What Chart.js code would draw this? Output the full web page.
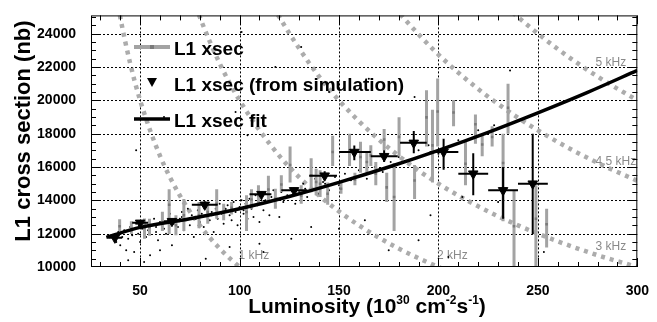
<!DOCTYPE html>
<html>
<head>
<meta charset="utf-8">
<script src="https://cdn.jsdelivr.net/npm/chart.js@4.4.0/dist/chart.umd.min.js"></script>
<style>
  html, body { margin: 0; padding: 0; background: #fff; }
</style>
</head>
<body>
<canvas id="myChart" width="657" height="322"></canvas>
<script>
const xTickVals = [50, 100, 150, 200, 250, 300];
const yTickVals = [10000, 12000, 14000, 16000, 18000, 20000, 22000, 24000];

// L1 xsec (grey points with vertical errors)
const xsecL  = [39.7, 45.6, 52.2, 54.7, 61.2, 64.6, 68, 72, 79.6, 84, 88.5, 92, 96, 103.5, 106, 109.5, 114.5, 118, 121, 125.4, 131, 136, 138.5, 140.5, 144.3, 146.8, 151, 155.3, 158, 160.8, 164, 166, 168.5, 172.7, 174, 177.7, 180.2, 188, 194, 197, 199.6, 207.6, 213.6, 218.6, 222, 227, 232.5, 235, 238, 249, 254.4];
const xsecS  = [12450, 12300, 12350, 12400, 12700, 13730, 12500, 13100, 13100, 13300, 13800, 13300, 13550, 13300, 14050, 14300, 14650, 14100, 14950, 16120, 14300, 15500, 15100, 15000, 14400, 16900, 14700, 17000, 15250, 16600, 16300, 16700, 15600, 17650, 14780, 14200, 17810, 15190, 18980, 17300, 19330, 19270, 16200, 18570, 17350, 17800, 16240, 19560, 12450, 12900, 12560];
const xsecLo = [12160, 11980, 11690, 11870, 12160, 11980, 11900, 12160, 12330, 12600, 12900, 12800, 13150, 12160, 13500, 13750, 13900, 13500, 14500, 15070, 13800, 14490, 14300, 14200, 13730, 16060, 14400, 16060, 14900, 15650, 15650, 16060, 14900, 17000, 13900, 12160, 16650, 14080, 17230, 15070, 17230, 18450, 14900, 17400, 16650, 17230, 12740, 17990, 9500, 9500, 11170];
const xsecHi = [12860, 12740, 12915, 12900, 13320, 14660, 13100, 14080, 13900, 13900, 14660, 13800, 13900, 14300, 14660, 14900, 15480, 14700, 15500, 17230, 14900, 16530, 15900, 15800, 15070, 17870, 15100, 17990, 15650, 17520, 16900, 17300, 16300, 18280, 15650, 16240, 18980, 16120, 20610, 19440, 21310, 20030, 17520, 19150, 18000, 18450, 17990, 21000, 14600, 14900, 13500];

// L1 xsec (from simulation)
const simL   = [37.3, 50, 66, 82.5, 111, 127.4, 142.8, 157.7, 172.7, 187.6, 202.6, 217.5, 232.5, 247.4];
const simS   = [11750, 12650, 12750, 13730, 14370, 14600, 15480, 16900, 16650, 17450, 16900, 15600, 14600, 15000];
const simLo  = [11600, 12500, 12600, 13500, 14200, 14450, 15200, 16400, 16300, 16820, 15830, 14310, 12900, 11980];
const simHi  = [11900, 12800, 12900, 13950, 14550, 14750, 15750, 17290, 17000, 18160, 17700, 16820, 16000, 17990];
const simLlo = [34, 46, 62, 76, 105, 121, 135, 150, 166, 180.7, 195.6, 210, 225, 240];
const simLhi = [41, 54, 70, 89, 116, 134, 149, 166, 179.5, 194.1, 210, 225, 240, 255];

// L1 xsec fit
const fitL = [33, 50, 75, 100, 125, 150, 175, 200, 225, 250, 275, 300];
const fitS = [11780, 12380, 12900, 13500, 14230, 15080, 16000, 17000, 18080, 19250, 20480, 21800];

// individual measurements (small dots)
const dotL = [36, 38, 39, 40, 41, 42, 43, 44, 45, 46, 47, 48, 49, 50, 51, 52, 53, 54, 55, 56, 57, 58, 59, 60, 61, 62, 63, 64, 65, 66, 67, 68, 69, 70, 71, 72, 73, 74, 75, 76, 77, 78, 79, 80, 81, 82, 83, 84, 85, 86, 87, 88, 89, 90, 91, 92, 93, 94, 95, 96, 97, 98, 99, 100, 101, 102, 103, 104, 105, 106, 107, 108, 109, 110, 111, 112, 113, 114, 115, 116, 117, 118, 119, 120, 121, 122, 124, 126, 128, 130, 132, 134, 136, 138, 140, 142, 145, 148, 150, 153, 156, 160, 164, 168, 172, 176, 180, 185, 190, 195, 200, 210, 220, 228, 44, 52, 60, 75, 83, 95, 98, 110, 118, 126, 131, 136, 145, 150, 163, 165, 175, 188, 190, 196, 205, 212, 230, 236, 241, 253, 48, 62, 104, 112, 101, 58, 71, 86, 93, 102, 113, 123, 133, 143];
const dotS = [11900, 11500, 12100, 11300, 11800, 12200, 11000, 11700, 12400, 11900, 10900, 12600, 12000, 11500, 12300, 12700, 11800, 12200, 10700, 12500, 12900, 12100, 11600, 12700, 13100, 12300, 12000, 12800, 13200, 11300, 12600, 13000, 12400, 12900, 13300, 12200, 12800, 13500, 12500, 13100, 11800, 12900, 13400, 12700, 13200, 12400, 13600, 13000, 12800, 13300, 12100, 13500, 12900, 13800, 13200, 12600, 13400, 13700, 13100, 12800, 13900, 13300, 12500, 13600, 14000, 13200, 13800, 12900, 14100, 13500, 13000, 14300, 13700, 12700, 14000, 13400, 14400, 13900, 13100, 14200, 14600, 13600, 14100, 13000, 14500, 13900, 14300, 14700, 13800, 14500, 15000, 14200, 14800, 15300, 14400, 15100, 14600, 15400, 14900, 15600, 15200, 15800, 15300, 16000, 15700, 16300, 16600, 16400, 17000, 17300, 16800, 17600, 18200, 18500, 10400, 10300, 11000, 20600, 10500, 11200, 19300, 11400, 22000, 11700, 23200, 12400, 20500, 12300, 12800, 21300, 11000, 20200, 11600, 13100, 10600, 14200, 13900, 21800, 15900, 10900, 17000, 19000, 17900, 10900, 24100, 12400, 13000, 13100, 13500, 13400, 14000, 14200, 14700, 15000];

// constant-rate curves
const rateCurveL = [
  [36, 40, 45, 50, 60, 70, 80, 90, 100, 104],
  [75, 80, 90, 100, 120, 140, 160, 180, 200, 205],
  [115, 120, 140, 160, 180, 200, 220, 240, 260, 280, 300],
  [175, 180, 200, 220, 240, 260, 280, 300],
  [234, 240, 260, 280, 300]
];
const rateCurveS = [
  [27780, 25000, 22220, 20000, 16670, 14290, 12500, 11110, 10000, 9620],
  [26670, 25000, 22220, 20000, 16670, 14290, 12500, 11110, 10000, 9760],
  [26090, 25000, 21430, 18750, 16670, 15000, 13640, 12500, 11540, 10710, 10000],
  [26000, 25280, 22750, 20680, 18960, 17500, 16250, 15170],
  [25640, 25000, 23080, 21430, 20000]
];
const rateNames  = ["1 kHz", "2 kHz", "3 kHz", "4.5 kHz", "5 kHz"];
const rateLabelL = [99.5, 199.3, 279, 279, 279];
const rateLabelS = [10700, 10700, 11220, 16300, 22240];

const pts = (xs, ys) => xs.map((v, i) => ({ x: v, y: ys[i] }));

const GREY_BAR = "#a3a3a3";
const CURVE = "#acacac";

const datasets = [
  {
    label: "L1 xsec (from simulation)",
    data: pts(simL, simS),
    pointStyle: "triangle",
    rotation: 180,
    pointRadius: 5.5,
    backgroundColor: "#000",
    borderColor: "#000",
    borderWidth: 1,
  },
  {
    label: "L1 xsec fit",
    data: pts(fitL, fitS),
    showLine: true,
    cubicInterpolationMode: "monotone",
    borderColor: "#000",
    borderWidth: 3.5,
    pointRadius: 0,
  },
  {
    label: "L1 xsec",
    data: pts(xsecL, xsecS),
    pointStyle: "rect",
    pointRadius: 1.8,
    backgroundColor: "#7a7a7a",
    borderWidth: 0,
  },
  {
    label: "measurements",
    data: pts(dotL, dotS),
    pointRadius: 1,
    backgroundColor: "#000",
    borderWidth: 0,
  },
];
rateCurveL.forEach((ls, i) => {
  datasets.push({
    label: rateNames[i],
    data: pts(ls, rateCurveS[i]),
    showLine: true,
    cubicInterpolationMode: "monotone",
    borderColor: CURVE,
    borderWidth: 4.5,
    borderDash: [4, 5],
    pointRadius: 0,
  });
});

function seg(ctx, x1, y1, x2, y2) {
  ctx.beginPath();
  ctx.moveTo(x1, y1);
  ctx.lineTo(x2, y2);
  ctx.stroke();
}

const rootStyle = {
  id: "rootStyle",
  beforeDatasetsDraw(chart) {
    const { ctx, chartArea: a, scales: { x, y } } = chart;
    ctx.save();
    ctx.strokeStyle = "#000";
    ctx.lineWidth = 1;
    ctx.setLineDash([2, 2]);
    xTickVals.forEach(v => {
      const px = Math.round(x.getPixelForValue(v)) + 0.5;
      if (px > a.left + 2 && px < a.right - 2) seg(ctx, px, a.top, px, a.bottom);
    });
    yTickVals.forEach(v => {
      const py = Math.round(y.getPixelForValue(v)) + 0.5;
      if (py > a.top + 2 && py < a.bottom - 2) seg(ctx, a.left, py, a.right, py);
    });
    ctx.setLineDash([]);
    ctx.fillStyle = "#8a8a8a";
    ctx.font = "12px 'Liberation Sans', Arial, sans-serif";
    ctx.textBaseline = "middle";
    ctx.textAlign = "left";
    rateNames.forEach((t, i) => {
      ctx.fillText(t, x.getPixelForValue(rateLabelL[i]), y.getPixelForValue(rateLabelS[i]));
    });
    ctx.restore();
  },
  beforeDatasetDraw(chart, args) {
    const { ctx, chartArea: a, scales: { x, y } } = chart;
    if (args.index !== 0 && args.index !== 2) return;
    ctx.save();
    ctx.beginPath();
    ctx.rect(a.left, a.top, a.right - a.left, a.bottom - a.top);
    ctx.clip();
    if (args.index === 2) {
      ctx.strokeStyle = GREY_BAR;
      ctx.lineWidth = 3;
      xsecL.forEach((l, i) => {
        const px = x.getPixelForValue(l);
        seg(ctx, px, y.getPixelForValue(xsecLo[i]), px, y.getPixelForValue(xsecHi[i]));
      });
    } else {
      ctx.strokeStyle = "#000";
      ctx.lineWidth = 2;
      simL.forEach((l, i) => {
        const px = x.getPixelForValue(l);
        const py = y.getPixelForValue(simS[i]);
        seg(ctx, px, y.getPixelForValue(simLo[i]), px, y.getPixelForValue(simHi[i]));
        seg(ctx, x.getPixelForValue(simLlo[i]), py, x.getPixelForValue(simLhi[i]), py);
      });
    }
    ctx.restore();
  },
  afterDatasetsDraw(chart) {
    const { ctx, chartArea: a, scales: { x, y } } = chart;
    ctx.save();
    ctx.strokeStyle = "#000";
    ctx.lineWidth = 1;
    ctx.strokeRect(a.left + 0.5, a.top + 0.5, a.right - a.left - 1, a.bottom - a.top - 1);

    // inward ticks on all four sides
    for (let v = 30; v <= 300; v += 10) {
      const px = Math.round(x.getPixelForValue(v)) + 0.5;
      const len = v % 50 === 0 ? 9 : 5;
      seg(ctx, px, a.bottom, px, a.bottom - len);
      seg(ctx, px, a.top, px, a.top + len);
    }
    for (let v = 10500; v <= 25000; v += 500) {
      const py = Math.round(y.getPixelForValue(v)) + 0.5;
      const len = v % 2000 === 0 ? 10 : 5;
      seg(ctx, a.left, py, a.left + len, py);
      seg(ctx, a.right, py, a.right - len, py);
    }

    // legend
    ctx.font = "bold 19px 'Liberation Sans', Arial, sans-serif";
    ctx.fillStyle = "#000";
    ctx.textAlign = "left";
    ctx.textBaseline = "alphabetic";
    ctx.strokeStyle = GREY_BAR;
    ctx.lineWidth = 4;
    seg(ctx, 134, 47, 170, 47);
    ctx.fillStyle = "#7a7a7a";
    ctx.fillRect(150, 45, 4, 4);
    ctx.fillStyle = "#000";
    ctx.fillText("L1 xsec", 174, 55);
    ctx.beginPath();
    ctx.moveTo(147, 78);
    ctx.lineTo(157, 78);
    ctx.lineTo(152, 87);
    ctx.closePath();
    ctx.fill();
    ctx.fillText("L1 xsec (from simulation)", 174, 91);
    ctx.strokeStyle = "#000";
    ctx.lineWidth = 3.5;
    seg(ctx, 134, 119, 170, 119);
    ctx.fillText("L1 xsec fit", 174, 127);

    // y title
    ctx.save();
    ctx.translate(30, 131);
    ctx.rotate(-Math.PI / 2);
    ctx.textAlign = "center";
    ctx.font = "bold 22px 'Liberation Sans', Arial, sans-serif";
    ctx.fillText("L1 cross section (nb)", 0, 0);
    ctx.restore();

    // x title with superscripts
    const big = "bold 21px 'Liberation Sans', Arial, sans-serif";
    const sup = "bold 12px 'Liberation Sans', Arial, sans-serif";
    const parts = [
      ["Luminosity (10", big, 0], ["30", sup, -9], [" cm", big, 0],
      ["-2", sup, -9], ["s", big, 0], ["-1", sup, -9], [")", big, 0]
    ];
    let total = 0;
    parts.forEach(p => { ctx.font = p[1]; total += ctx.measureText(p[0]).width; });
    let cx = 367 - total / 2;
    parts.forEach(p => {
      ctx.font = p[1];
      ctx.fillText(p[0], cx, 313 + p[2]);
      cx += ctx.measureText(p[0]).width;
    });
    ctx.restore();
  }
};

const config = {
  type: "scatter",
  data: { datasets },
  options: {
    responsive: false,
    animation: false,
    devicePixelRatio: 1,
    layout: { padding: { top: 8, right: 15, left: 0, bottom: 0 } },
    plugins: {
      legend: { display: false },
      tooltip: { enabled: false },
    },
    scales: {
      x: {
        type: "linear",
        min: 25.3,
        max: 300,
        grid: { display: false },
        border: { display: false },
        afterBuildTicks: s => { s.ticks = xTickVals.map(v => ({ value: v })); },
        afterFit: s => { s.height = 55; },
        ticks: {
          padding: 8,
          maxRotation: 0,
          color: "#000",
          font: { family: "'Liberation Sans', Arial, sans-serif", size: 14, weight: "bold" },
        },
      },
      y: {
        type: "linear",
        min: 10000,
        max: 25100,
        grid: { display: false },
        border: { display: false },
        afterBuildTicks: s => { s.ticks = yTickVals.map(v => ({ value: v })); },
        afterFit: s => { s.width = 91; },
        ticks: {
          padding: 7,
          color: "#000",
          font: { family: "'Liberation Sans', Arial, sans-serif", size: 14, weight: "bold" },
          callback: v => String(v),
        },
      },
    },
  },
  plugins: [rootStyle],
};

const chart01 = new Chart(document.getElementById("myChart"), config);
</script>
</body>
</html>
